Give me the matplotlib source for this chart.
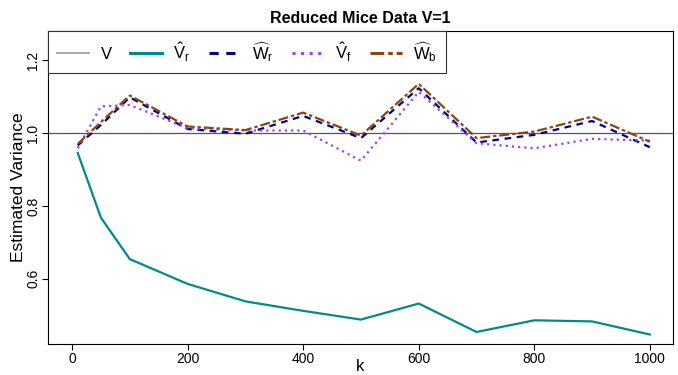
import matplotlib
matplotlib.use("Agg")
import matplotlib.pyplot as plt
from matplotlib.lines import Line2D

plt.rcParams['font.family'] = ['Liberation Sans', 'DejaVu Sans']
plt.rcParams['mathtext.fontset'] = 'custom'
plt.rcParams['mathtext.rm'] = 'Liberation Sans'
plt.rcParams['mathtext.it'] = 'Liberation Sans'

k = [10, 50, 100, 200, 300, 400, 500, 600, 700, 800, 900, 1000]
V_true = 1.0
V_r_hat = [0.945, 0.768, 0.654, 0.586, 0.538, 0.512, 0.488, 0.532, 0.454, 0.486, 0.483, 0.447]
W_r_hat = [0.966, 1.022, 1.098, 1.011, 0.998, 1.047, 0.986, 1.123, 0.974, 0.995, 1.033, 0.961]
V_f_hat = [0.958, 1.073, 1.077, 1.013, 1.007, 1.007, 0.924, 1.113, 0.972, 0.958, 0.984, 0.979]
W_b_hat = [0.970, 1.030, 1.103, 1.018, 1.008, 1.056, 0.993, 1.135, 0.986, 1.004, 1.045, 0.976]

labels = ['V', r'$\mathrm{\hat{V}_r}$', r'$\mathrm{\widehat{W}_r}$', r'$\mathrm{\hat{V}_f}$', r'$\mathrm{\widehat{W}_b}$']

W, H = 678, 375
fig = plt.figure(figsize=(6.78, 3.75), dpi=100)
ax = fig.add_axes([48/W, 1-344/H, (673-48)/W, (344-31)/H])

lw = 1.6
ax.axhline(V_true, color='#555555', lw=0.9)
ax.plot(k, V_r_hat, color='#008B8B', lw=lw)
ax.plot(k, W_r_hat, color='#00008B', lw=lw, dashes=(3, 2.5))
ax.plot(k, V_f_hat, color='#A040E8', lw=lw, dashes=(1, 1.8))
ax.plot(k, W_b_hat, color='#8B4513', lw=lw, dashes=(4.5, 1.3, 1.5, 1.3))

ax.set_xlim(-41.5, 1040)
ax.set_ylim(0.421, 1.28)
ax.set_xticks([0, 200, 400, 600, 800, 1000])
ax.set_yticks([0.6, 0.8, 1.0, 1.2])
ax.set_yticklabels(['0.6', '0.8', '1.0', '1.2'], rotation=90, va='center')
ax.tick_params(labelsize=10, length=4, width=0.8, pad=2)
ax.tick_params(axis='y', pad=1.5)
for s in ax.spines.values():
    s.set_linewidth(0.8)

ax.set_xlabel('k', fontsize=12)
ax.xaxis.set_label_coords(0.5, -(359 - 344) / 313)
ax.set_ylabel('Estimated Variance', fontsize=12.5)
ax.yaxis.set_label_coords(-(48 - 26) / 625, 0.5)
ax.set_title('Reduced Mice Data V=1', fontsize=11.5, fontweight='bold', pad=6)

handles = [
    Line2D([], [], color='#999999', lw=1.2),
    Line2D([], [], color='#008B8B', lw=2.2),
    Line2D([], [], color='#00008B', lw=2.2, dashes=(3, 2.5)),
    Line2D([], [], color='#A040E8', lw=2.2, dashes=(1, 1.8)),
    Line2D([], [], color='#8B4513', lw=2.2, dashes=(4.5, 1.3, 1.5, 1.3)),
]
leg = ax.legend(handles, labels, loc='upper left', bbox_to_anchor=(0, 1), ncol=5,
                borderaxespad=0, fancybox=False, framealpha=1, edgecolor='#333333',
                fontsize=12, handlelength=1.9, handletextpad=0.7, columnspacing=1.1,
                borderpad=0.55)
leg.get_frame().set_linewidth(0.8)

fig.savefig('out.png', dpi=100)
